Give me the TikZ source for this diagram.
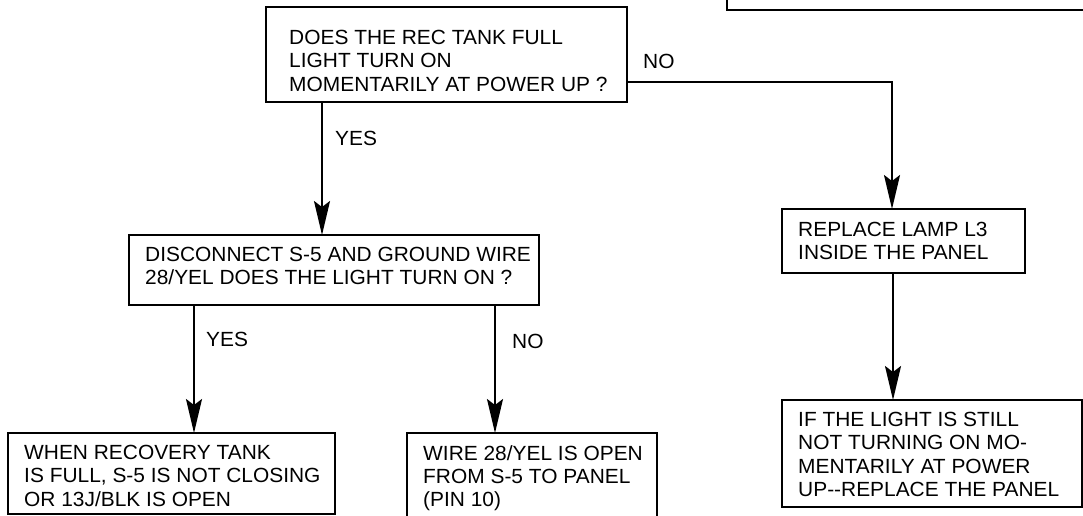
\documentclass[tikz,border=0pt]{standalone}
\usepackage{fontspec}
\setmainfont{Liberation Sans}[FakeStretch=1.02]
\usetikzlibrary{arrows.meta}
\begin{document}
\begin{tikzpicture}[x=1pt,y=-1pt,
  box/.style={draw, line width=2pt, rectangle, anchor=north west, inner sep=0pt, outer sep=0pt},
  txt/.style={anchor=north west, inner sep=0pt, align=left, font=\fontsize{20.5}{23.3}\selectfont},
  lbl/.style={anchor=base west, inner sep=0pt, font=\fontsize{20.5}{23.3}\selectfont},
  arr/.style={line width=2pt, -{Stealth[length=34pt,width=16pt,inset=6pt]}}]
\useasboundingbox (0,0) rectangle (1083,516);
\clip (0,0) rectangle (1083,516);
% boxes
\node[box, minimum width=400pt, minimum height=40pt] (top) at (727,-30) {};
\node[box, minimum width=361pt, minimum height=95pt] (q1) at (266,7) {};
\node[box, minimum width=410pt, minimum height=70pt] (q2) at (129,235) {};
\node[box, minimum width=327pt, minimum height=81pt] (when) at (8,433) {};
\node[box, minimum width=250pt, minimum height=100pt] (wire) at (407,433) {};
\node[box, minimum width=243pt, minimum height=64pt] (replace) at (782,209) {};
\node[box, minimum width=300pt, minimum height=107pt] (final) at (782,400) {};
% texts
\node[txt] (q1t) at (289,30) {DOES THE REC TANK FULL\\LIGHT TURN ON\\MOMENTARILY AT POWER UP ?};
\node[txt] (q2t) at (145,247) {DISCONNECT S-5 AND GROUND WIRE\\28/YEL DOES THE LIGHT TURN ON ?};
\node[txt] (whent) at (24,445) {WHEN RECOVERY TANK\\IS FULL, S-5 IS NOT CLOSING\\OR 13J/BLK IS OPEN};
\node[txt] (wiret) at (423,445) {WIRE 28/YEL IS OPEN\\FROM S-5 TO PANEL\\(PIN 10)};
\node[txt] (replacet) at (798,222) {REPLACE LAMP L3\\INSIDE THE PANEL};
\node[txt] (finalt) at (798,412) {IF THE LIGHT IS STILL\\NOT TURNING ON MO-\\MENTARILY AT POWER\\UP-{}-REPLACE THE PANEL};
% labels
\node[lbl] (no1) at (643,69) {NO};
\node[lbl] (yes1) at (335,145) {YES};
\node[lbl] (yes2) at (206,346) {YES};
\node[lbl] (no2) at (512,348) {NO};
% connector coordinates
\coordinate (xa) at (322,0);
\coordinate (xb) at (194,0);
\coordinate (xc) at (495,0);
\coordinate (xd) at (892,0);
\coordinate (xe) at (893,0);
\coordinate (ya) at (0,82);
% connectors
\draw[arr] (q1.south -| xa) -- (q2.north -| xa);
\draw[arr] (q1.east |- ya) -| (replace.north -| xd);
\draw[arr] (q2.south -| xb) -- (when.north -| xb);
\draw[arr] (q2.south -| xc) -- (wire.north -| xc);
\draw[arr] (replace.south -| xe) -- (final.north -| xe);
\end{tikzpicture}
\end{document}
